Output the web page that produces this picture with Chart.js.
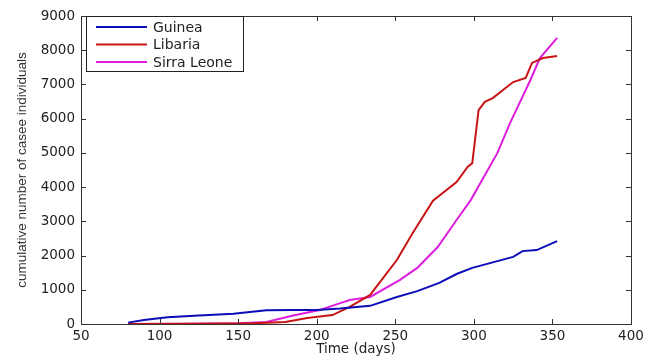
<!DOCTYPE html>
<html>
<head>
<meta charset="utf-8">
<script src="https://cdn.jsdelivr.net/npm/chart.js@4"></script>
<style>
  body { margin: 0; background: #fff; }
  #wrap { width: 656px; height: 358px; }
</style>
</head>
<body>
<div id="wrap"><canvas id="ebolaChart"></canvas></div>
<script>
// values (days, cumulative cases)
const guineaDays = [80, 90, 105, 125, 147, 168, 185, 200, 215, 234, 251, 264, 278, 289, 299, 312, 325, 331, 340, 353];
const guineaCases = [40, 120, 200, 250, 300, 400, 410, 410, 450, 530, 790, 960, 1200, 1460, 1640, 1800, 1960, 2130, 2160, 2420];

const liberiaDays = [80, 120, 160, 180, 194, 210, 221, 234, 251, 261, 274, 289, 296, 299, 303, 307, 312, 325, 333, 337, 344, 353];
const liberiaCases = [0, 5, 20, 60, 175, 260, 500, 850, 1870, 2650, 3600, 4150, 4590, 4700, 6250, 6490, 6600, 7070, 7190, 7630, 7770, 7830];

const sierraDays = [80, 120, 150, 168, 185, 202, 215, 221, 234, 253, 264, 277, 289, 298, 315, 323, 336, 342, 353];
const sierraCases = [0, 5, 20, 60, 250, 410, 610, 700, 790, 1290, 1640, 2250, 3040, 3620, 5000, 5870, 7130, 7770, 8360];

const seriesNames = ["Guinea", "Libaria", "Sirra Leone"];
const seriesColors = ["#0c0cb8", "#c81414", "#dc1edc"];

const xTicks = [50, 100, 150, 200, 250, 300, 350, 400];
const yTicks = [0, 1000, 2000, 3000, 4000, 5000, 6000, 7000, 8000, 9000];

const mainFont = "'DejaVu Sans', sans-serif";

function toPoints(xs, ys) {
  return xs.map((x, i) => ({ x: x, y: ys[i] }));
}

// box, inner ticks (matlab style) and legend inside the plot
const matlabFrame = {
  id: "matlabFrame",
  afterDraw(chart) {
    const c = chart.ctx;
    const a = chart.chartArea;
    const xs = chart.scales.x, ys = chart.scales.y;
    c.save();
    c.strokeStyle = "#333";
    c.lineWidth = 1;
    c.strokeRect(a.left + 0.5, a.top + 0.5, a.right - a.left, a.bottom - a.top);
    c.beginPath();
    xTicks.forEach(v => {
      const px = Math.round(xs.getPixelForValue(v)) + 0.5;
      c.moveTo(px, a.bottom); c.lineTo(px, a.bottom - 5);
      c.moveTo(px, a.top); c.lineTo(px, a.top + 5);
    });
    yTicks.forEach(v => {
      const py = Math.round(ys.getPixelForValue(v)) + 0.5;
      c.moveTo(a.left, py); c.lineTo(a.left + 5, py);
      c.moveTo(a.right, py); c.lineTo(a.right - 5, py);
    });
    c.stroke();

    // legend
    const lx = a.left + 5, ly = a.top, lw = 157, lh = 55;
    c.fillStyle = "#fff";
    c.fillRect(lx, ly, lw, lh);
    c.strokeStyle = "#222";
    c.strokeRect(lx + 0.5, ly + 0.5, lw, lh);
    c.font = "14px " + mainFont;
    c.textBaseline = "middle";
    seriesNames.forEach((name, i) => {
      const yy = ly + 11 + i * 17.5;
      c.strokeStyle = seriesColors[i];
      c.lineWidth = 2;
      c.beginPath();
      c.moveTo(lx + 10, yy); c.lineTo(lx + 61, yy);
      c.stroke();
      c.fillStyle = "#222";
      c.fillText(name, lx + 67, yy + 1);
    });
    c.restore();
  }
};

const ctx = document.getElementById("ebolaChart").getContext("2d");
const ebolaChart = new Chart(ctx, {
  type: "line",
  data: {
    datasets: [
      { label: seriesNames[0], data: toPoints(guineaDays, guineaCases), borderColor: seriesColors[0] },
      { label: seriesNames[1], data: toPoints(liberiaDays, liberiaCases), borderColor: seriesColors[1] },
      { label: seriesNames[2], data: toPoints(sierraDays, sierraCases), borderColor: seriesColors[2] }
    ].map(d => Object.assign(d, { borderWidth: 2, pointRadius: 0, fill: false, tension: 0 }))
  },
  options: {
    responsive: true,
    maintainAspectRatio: false,
    animation: false,
    layout: { padding: { top: 16, right: 25, left: 0, bottom: 0 } },
    plugins: { legend: { display: false }, tooltip: { enabled: false } },
    scales: {
      x: {
        type: "linear", min: 50, max: 400,
        afterBuildTicks: s => { s.ticks = xTicks.map(v => ({ value: v })); },
        afterFit: s => { s.height = 34; },
        grid: { display: false, drawTicks: false },
        border: { display: false },
        ticks: { color: "#222", font: { size: 13.5, family: mainFont }, padding: 4, maxRotation: 0, callback: v => String(v) },
        title: { display: true, text: "Time (days)", color: "#222", font: { size: 13.5, family: mainFont }, padding: { top: 0, bottom: 0 } }
      },
      y: {
        min: 0, max: 9000,
        afterBuildTicks: s => { s.ticks = yTicks.map(v => ({ value: v })); },
        afterFit: s => { s.width = 81; },
        grid: { display: false, drawTicks: false },
        border: { display: false },
        ticks: { color: "#222", font: { size: 13.5, family: mainFont }, padding: 6, callback: v => String(v) },
        title: { display: true, text: "cumulative number of casee individuals", color: "#333", font: { size: 13.5, family: "'Liberation Sans Narrow', 'Liberation Sans', sans-serif" }, padding: { top: 14, bottom: 0 } }
      }
    }
  },
  plugins: [matlabFrame]
});
</script>
</body>
</html>
